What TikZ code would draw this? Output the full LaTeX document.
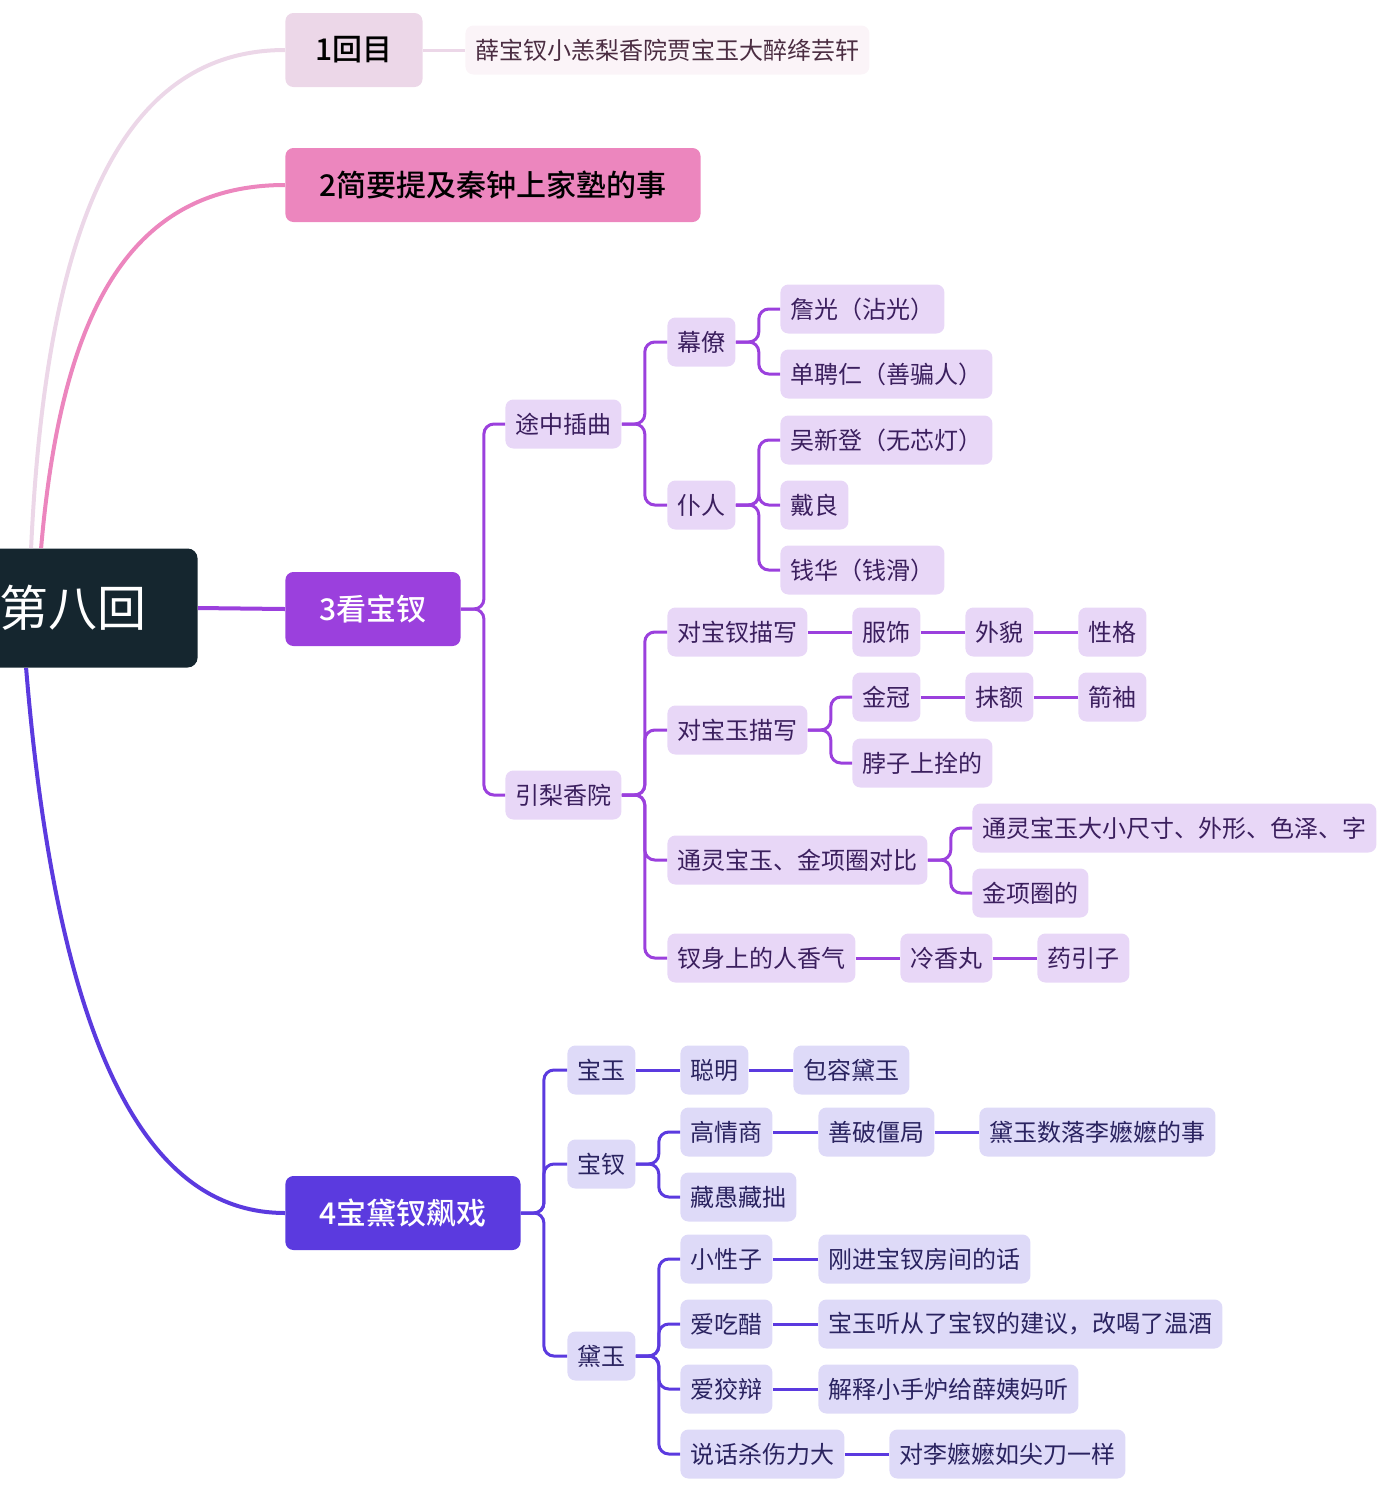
\documentclass[tikz,border=0pt]{standalone}
\usepackage{fontspec}
\setmainfont{Noto Sans CJK SC}
\newfontfamily\cjkmed{Noto Sans CJK SC}[UprightFont=* Medium]
\usetikzlibrary{graphs}

\definecolor{rootbg}{HTML}{15262F}
\definecolor{rosea}{HTML}{ECD7E8}
\definecolor{roseb}{HTML}{FBF4F8}
\definecolor{rosec}{HTML}{4B2D42}
\definecolor{pinka}{HTML}{EC86BE}
\definecolor{purpa}{HTML}{9B40DD}
\definecolor{indga}{HTML}{5B3ADF}
\definecolor{lilac}{HTML}{E8D7F7}
\definecolor{lavnd}{HTML}{DEDAF8}
\definecolor{inka}{HTML}{3B1F5E}
\definecolor{inkb}{HTML}{2A2360}

\tikzset{
  topic/.style={anchor=west, rounded corners=4pt, minimum height=37pt, inner xsep=17pt,
    font=\fontsize{15}{18}\selectfont\cjkmed},
  leafa/.style={anchor=west, fill=lilac, text=inka, rounded corners=4pt, minimum height=24.5pt,
    inner xsep=5pt, font=\fontsize{12}{14}\selectfont},
  leafb/.style={leafa, fill=lavnd, text=inkb},
  linka/.style={draw=purpa, line width=1.5pt},
  linkb/.style={draw=indga, line width=1.5pt},
  fork/.style={rounded corners=5pt,
    to path={(\tikztostart.east) -- ++(11.5pt,0) |- (\tikztotarget.west)}},
}

\begin{document}
\begin{tikzpicture}[x=0.5pt, y=-0.5pt]
      \useasboundingbox (0,0) rectangle (1389,1501);

      % centre and main topics
      \node[anchor=east, fill=rootbg, text=white, rounded corners=5pt, minimum height=59.5pt,
        inner xsep=25.5pt, font=\fontsize{24.5}{28}\selectfont] (root) at (198,608) {第八回};
      \node[topic, fill=rosea, inner xsep=15pt] (t1) at (285,50) {1回目};
      \node[anchor=west, fill=roseb, text=rosec, rounded corners=4pt, minimum height=24.5pt,
        inner xsep=5pt, font=\fontsize{12}{14}\selectfont] (s1) at (465,50) {薛宝钗小恙梨香院贾宝玉大醉绛芸轩};
      \node[topic, fill=pinka] (t2) at (285,185) {2简要提及秦钟上家塾的事};
      \node[topic, fill=purpa, text=white] (t3) at (285,609) {3看宝钗};
      \node[topic, fill=indga, text=white] (t4) at (285,1213) {4宝黛钗飙戏};

      % 3看宝钗
      \node[leafa] (tz) at (505,424) {途中插曲};
      \node[leafa] (ll) at (505,795) {引梨香院};
      \node[leafa] (ml) at (667,342) {幕僚};
      \node[leafa] (pr) at (667,505) {仆人};
      \node[leafa] (zg) at (780,309) {詹光（沾光）};
      \node[leafa] (dp) at (780,374) {单聘仁（善骗人）};
      \node[leafa] (wx) at (780,440) {吴新登（无芯灯）};
      \node[leafa] (dl) at (780,505) {戴良};
      \node[leafa] (qh) at (780,570) {钱华（钱滑）};
      \node[leafa] (dc) at (667,632) {对宝钗描写};
      \node[leafa] (fs) at (852,632) {服饰};
      \node[leafa] (wm) at (965,632) {外貌};
      \node[leafa] (xg) at (1078,632) {性格};
      \node[leafa] (dy) at (667,730) {对宝玉描写};
      \node[leafa] (jg) at (852,697) {金冠};
      \node[leafa] (me) at (965,697) {抹额};
      \node[leafa] (jx) at (1078,697) {箭袖};
      \node[leafa] (bz) at (852,763) {脖子上拴的};
      \node[leafa] (tl) at (667,860) {通灵宝玉、金项圈对比};
      \node[leafa] (ty) at (972,828) {通灵宝玉大小尺寸、外形、色泽、字};
      \node[leafa] (jq) at (972,893) {金项圈的};
      \node[leafa] (xq) at (667,958) {钗身上的人香气};
      \node[leafa] (lx) at (900,958) {冷香丸};
      \node[leafa] (yy) at (1037,958) {药引子};

      % 4宝黛钗飙戏
      \node[leafb] (by) at (567,1070) {宝玉};
      \node[leafb] (bc) at (567,1164) {宝钗};
      \node[leafb] (dyu) at (567,1356) {黛玉};
      \node[leafb] (cm) at (680,1070) {聪明};
      \node[leafb] (br) at (793,1070) {包容黛玉};
      \node[leafb] (gq) at (680,1132) {高情商};
      \node[leafb] (sp) at (818,1132) {善破僵局};
      \node[leafb] (ls) at (979,1132) {黛玉数落李嬷嬷的事};
      \node[leafb] (cy) at (680,1197) {藏愚藏拙};
      \node[leafb] (xx) at (680,1259) {小性子};
      \node[leafb] (gj) at (818,1259) {刚进宝钗房间的话};
      \node[leafb] (ac) at (680,1324) {爱吃醋};
      \node[leafb] (tw) at (818,1324) {宝玉听从了宝钗的建议，改喝了温酒};
      \node[leafb] (aj) at (680,1389) {爱狡辩};
      \node[leafb] (js) at (818,1389) {解释小手炉给薛姨妈听};
      \node[leafb] (sh) at (680,1454) {说话杀伤力大};
      \node[leafb] (jd) at (889,1454) {对李嬷嬷如尖刀一样};

      % curves from the centre
      \draw[rosea, line width=2pt] ([xshift=-21pt]root.north) .. controls (45,250) and (110,50) .. (t1.west);
      \draw[pinka, line width=2pt] ([xshift=-16pt]root.north) .. controls (60,330) and (120,185) .. (t2.west);
      \draw[purpa, line width=2pt] (root.east) -- (t3.west);
      \draw[indga, line width=2pt] ([xshift=-23.5pt]root.south) .. controls (60,1080) and (160,1213) .. (t4.west);
      \draw[rosea, line width=1.5pt] (t1) -- (s1);

      \graph[edges={linka}]{
        (t3) --[fork] (tz);
        (t3) --[fork] (ll);
        (tz) --[fork] (ml);
        (tz) --[fork] (pr);
        (ml) --[fork] (zg);
        (ml) --[fork] (dp);
        (pr) --[fork] (wx);
        (pr) --[fork] (dl);
        (pr) --[fork] (qh);
        (ll) --[fork] (dc);
        (ll) --[fork] (dy);
        (ll) --[fork] (tl);
        (ll) --[fork] (xq);
        (dc) -- (fs) -- (wm) -- (xg);
        (dy) --[fork] (jg);
        (dy) --[fork] (bz);
        (jg) -- (me) -- (jx);
        (tl) --[fork] (ty);
        (tl) --[fork] (jq);
        (xq) -- (lx) -- (yy)
      };

      \graph[edges={linkb}]{
        (t4) --[fork] (by);
        (t4) --[fork] (bc);
        (t4) --[fork] (dyu);
        (by) -- (cm) -- (br);
        (bc) --[fork] (gq);
        (bc) --[fork] (cy);
        (gq) -- (sp) -- (ls);
        (dyu) --[fork] (xx);
        (dyu) --[fork] (ac);
        (dyu) --[fork] (aj);
        (dyu) --[fork] (sh);
        (xx) -- (gj);
        (ac) -- (tw);
        (aj) -- (js);
        (sh) -- (jd)
      };
    \end{tikzpicture}
\end{document}
